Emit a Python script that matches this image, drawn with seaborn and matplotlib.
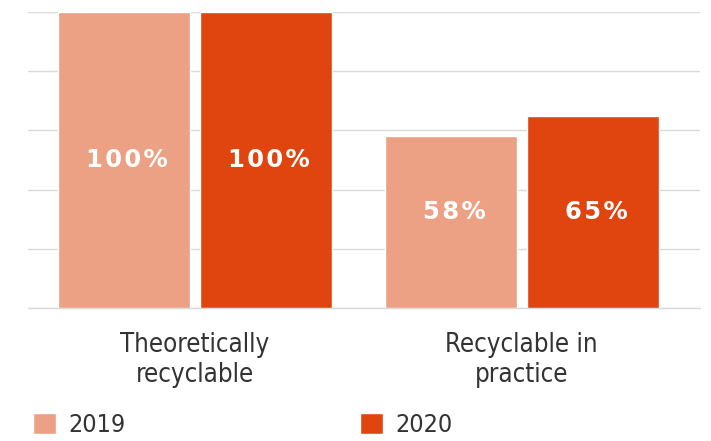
import pandas as pd
import numpy as np
import matplotlib.pyplot as plt
import seaborn as sns

# Chart data
categories = ['Theoretically\nrecyclable', 'Recyclable in\npractice']
years = ['2019', '2020']
values_2019 = [100, 58]
values_2020 = [100, 65]
colors = ['#ECA084', '#E0450F']

df = pd.DataFrame({
    'category': categories * 2,
    'year': [years[0]] * 2 + [years[1]] * 2,
    'share': values_2019 + values_2020,
})

sns.set_style('white')
plt.rcParams['font.family'] = ['DejaVu Sans']

fig = plt.figure(figsize=(7.11, 4.41), dpi=100)
ax = fig.add_axes([28 / 711, 1 - 308 / 441, (700 - 28) / 711, (308 - 12) / 441])

bar_width = 0.87
sns.barplot(data=df, x='category', y='share', hue='year', order=categories,
            hue_order=years, palette=colors, gap=0.07, saturation=1,
            width=bar_width, ax=ax, legend=True)

ax.set_ylim(0, 100)
ax.set_xlim(-0.51, 1.545)
ax.set_yticks(np.arange(0, 101, 20))
ax.yaxis.grid(True, color='#dadada', linewidth=1)
ax.axhline(0, color='#dadada', linewidth=1, clip_on=False, zorder=0.5)
ax.set_axisbelow(True)
ax.tick_params(axis='y', left=False, labelleft=False)
ax.tick_params(axis='x', length=0, pad=17)
for lbl in ax.get_xticklabels():
    lbl.set_fontsize(18.5)
    lbl.set_fontstretch('condensed')
    lbl.set_color('#333333')
    lbl.set_linespacing(1.22)
ax.set_xlabel('')
ax.set_ylabel('')
sns.despine(ax=ax, left=True, bottom=True, top=True, right=True)

# labels inside bars, placed at mid-height of each group's taller bar
for i, cat in enumerate(categories):
    group_max = max(values_2019[i], values_2020[i])
    for j, vals in enumerate([values_2019, values_2020]):
        x = i + (j - 0.5) * bar_width / 2 + 0.01
        txt = '\u200a'.join(f'{vals[i]}%')
        ax.text(x, group_max / 2, txt, ha='center', va='center',
                color='white', fontsize=17.5, fontweight='bold')

# legend along the bottom
handles, labels = ax.get_legend_handles_labels()
ax.get_legend().remove()
leg = fig.legend(handles, labels, loc='center left', ncol=2,
                 bbox_to_anchor=(33 / 711, 1 - 425 / 441),
                 bbox_transform=fig.transFigure, frameon=False,
                 handlelength=0.92, handleheight=0.92, handletextpad=0.48,
                 columnspacing=9.4, borderpad=0, borderaxespad=0,
                 prop={'size': 18, 'stretch': 'condensed'})
for t in leg.get_texts():
    t.set_color('#333333')

fig.savefig('out.png', dpi=100)
